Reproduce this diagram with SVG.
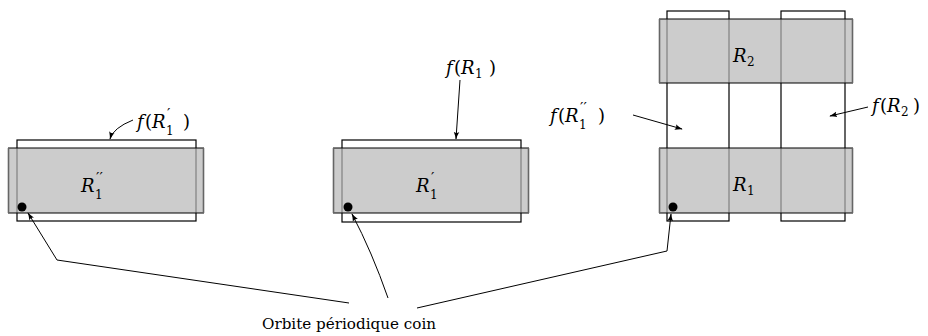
<svg xmlns="http://www.w3.org/2000/svg" width="928" height="336" viewBox="0 0 928 336">
<defs>
<style>
.img{fill:none;stroke:#000;stroke-width:1.2}
.gr{fill:#b7b7b7;fill-opacity:0.7;stroke:none}
.hb{stroke:#000;stroke-width:1.2}
.vb{stroke:#666;stroke-width:1.6}
.ar{fill:none;stroke:#000;stroke-width:1}
.dot{fill:#000}
.t{font-family:"DejaVu Serif", "Liberation Serif", serif}
.m{font-size:18px}
.s{font-size:12px}
.p{font-size:15px}
.i{font-style:italic}
</style>
<marker id="ah" viewBox="0 0 10 10" refX="9" refY="5" markerWidth="8" markerHeight="8" orient="auto" markerUnits="userSpaceOnUse">
<path d="M0,1.5 Q5,4 10,5 Q5,6 0,8.5 Q3,5 0,1.5 Z" fill="#000"/>
</marker>
</defs>

<g id="panel-left">
<rect class="img" x="17" y="140" width="179" height="81"/>
<rect class="gr" x="8" y="148" width="196" height="65"/>
<line class="hb" x1="8" y1="148" x2="204" y2="148"/>
<line class="hb" x1="8" y1="213" x2="204" y2="213"/>
<line class="vb" x1="8.5" y1="148" x2="8.5" y2="213"/>
<line class="vb" x1="203.5" y1="148" x2="203.5" y2="213"/>
<circle class="dot" cx="22" cy="207" r="4.5"/>
<text class="t m"><tspan class="i" x="81" y="192">R</tspan><tspan class="p" x="96" y="183">′′</tspan><tspan class="s" x="95" y="199">1</tspan></text>
</g>

<g id="panel-middle">
<rect class="img" x="342" y="140" width="179" height="82"/>
<rect class="gr" x="333" y="148" width="196" height="65"/>
<line class="hb" x1="333" y1="148" x2="529" y2="148"/>
<line class="hb" x1="333" y1="213" x2="529" y2="213"/>
<line class="vb" x1="333.5" y1="148" x2="333.5" y2="213"/>
<line class="vb" x1="528.5" y1="148" x2="528.5" y2="213"/>
<circle class="dot" cx="348" cy="207" r="4.5"/>
<text class="t m"><tspan class="i" x="416" y="192">R</tspan><tspan class="p" x="431" y="183">′</tspan><tspan class="s" x="430" y="199">1</tspan></text>
</g>

<g id="panel-right">
<rect class="img" x="667" y="11" width="62" height="210"/>
<rect class="img" x="781" y="11" width="64" height="210"/>
<rect class="gr" x="659" y="19" width="194" height="64"/>
<line class="hb" x1="659" y1="19" x2="853" y2="19"/>
<line class="hb" x1="659" y1="83" x2="853" y2="83"/>
<line class="vb" x1="659.5" y1="19" x2="659.5" y2="83"/>
<line class="vb" x1="852.5" y1="19" x2="852.5" y2="83"/>
<rect class="gr" x="659" y="148" width="194" height="65"/>
<line class="hb" x1="659" y1="148" x2="853" y2="148"/>
<line class="hb" x1="659" y1="213" x2="853" y2="213"/>
<line class="vb" x1="659.5" y1="148" x2="659.5" y2="213"/>
<line class="vb" x1="852.5" y1="148" x2="852.5" y2="213"/>
<circle class="dot" cx="673" cy="207" r="4.5"/>
<text class="t m"><tspan class="i" x="733" y="62">R</tspan><tspan class="s" x="747" y="66">2</tspan></text>
<text class="t m"><tspan class="i" x="733" y="191">R</tspan><tspan class="s" x="747" y="195">1</tspan></text>
</g>

<g id="labels">
<text class="t m"><tspan class="i" x="137" y="128">f</tspan><tspan x="145" y="128">(</tspan><tspan class="i" x="152" y="128">R</tspan><tspan class="p" x="167" y="119">′</tspan><tspan class="s" x="166" y="135">1</tspan><tspan x="183" y="128">)</tspan></text>
<text class="t m"><tspan class="i" x="446" y="74">f</tspan><tspan x="454" y="74">(</tspan><tspan class="i" x="461" y="74">R</tspan><tspan class="s" x="475" y="78">1</tspan><tspan x="489" y="74">)</tspan></text>
<text class="t m"><tspan class="i" x="550" y="122">f</tspan><tspan x="558" y="122">(</tspan><tspan class="i" x="565" y="122">R</tspan><tspan class="p" x="580" y="113">′′</tspan><tspan class="s" x="579" y="129">1</tspan><tspan x="598" y="122">)</tspan></text>
<text class="t m"><tspan class="i" x="872" y="112">f</tspan><tspan x="880" y="112">(</tspan><tspan class="i" x="887" y="112">R</tspan><tspan class="s" x="901" y="116">2</tspan><tspan x="913" y="112">)</tspan></text>
<text class="t" x="262" y="329" font-size="15" textLength="174" lengthAdjust="spacingAndGlyphs">Orbite périodique coin</text>
</g>

<g id="connectors">
<path class="ar" d="M133,120 Q113,128 110,139" marker-end="url(#ah)"/>
<path class="ar" d="M460,80 L456,139" marker-end="url(#ah)"/>
<path class="ar" d="M633,115 L682,129" marker-end="url(#ah)"/>
<path class="ar" d="M868,107 L830,116" marker-end="url(#ah)"/>
<path class="ar" d="M349,303 L57,260 L28,213" marker-end="url(#ah)"/>
<path class="ar" d="M388,298 Q372,252 352,214" marker-end="url(#ah)"/>
<path class="ar" d="M417,308 L667,251 L671,214" marker-end="url(#ah)"/>
</g>
</svg>
